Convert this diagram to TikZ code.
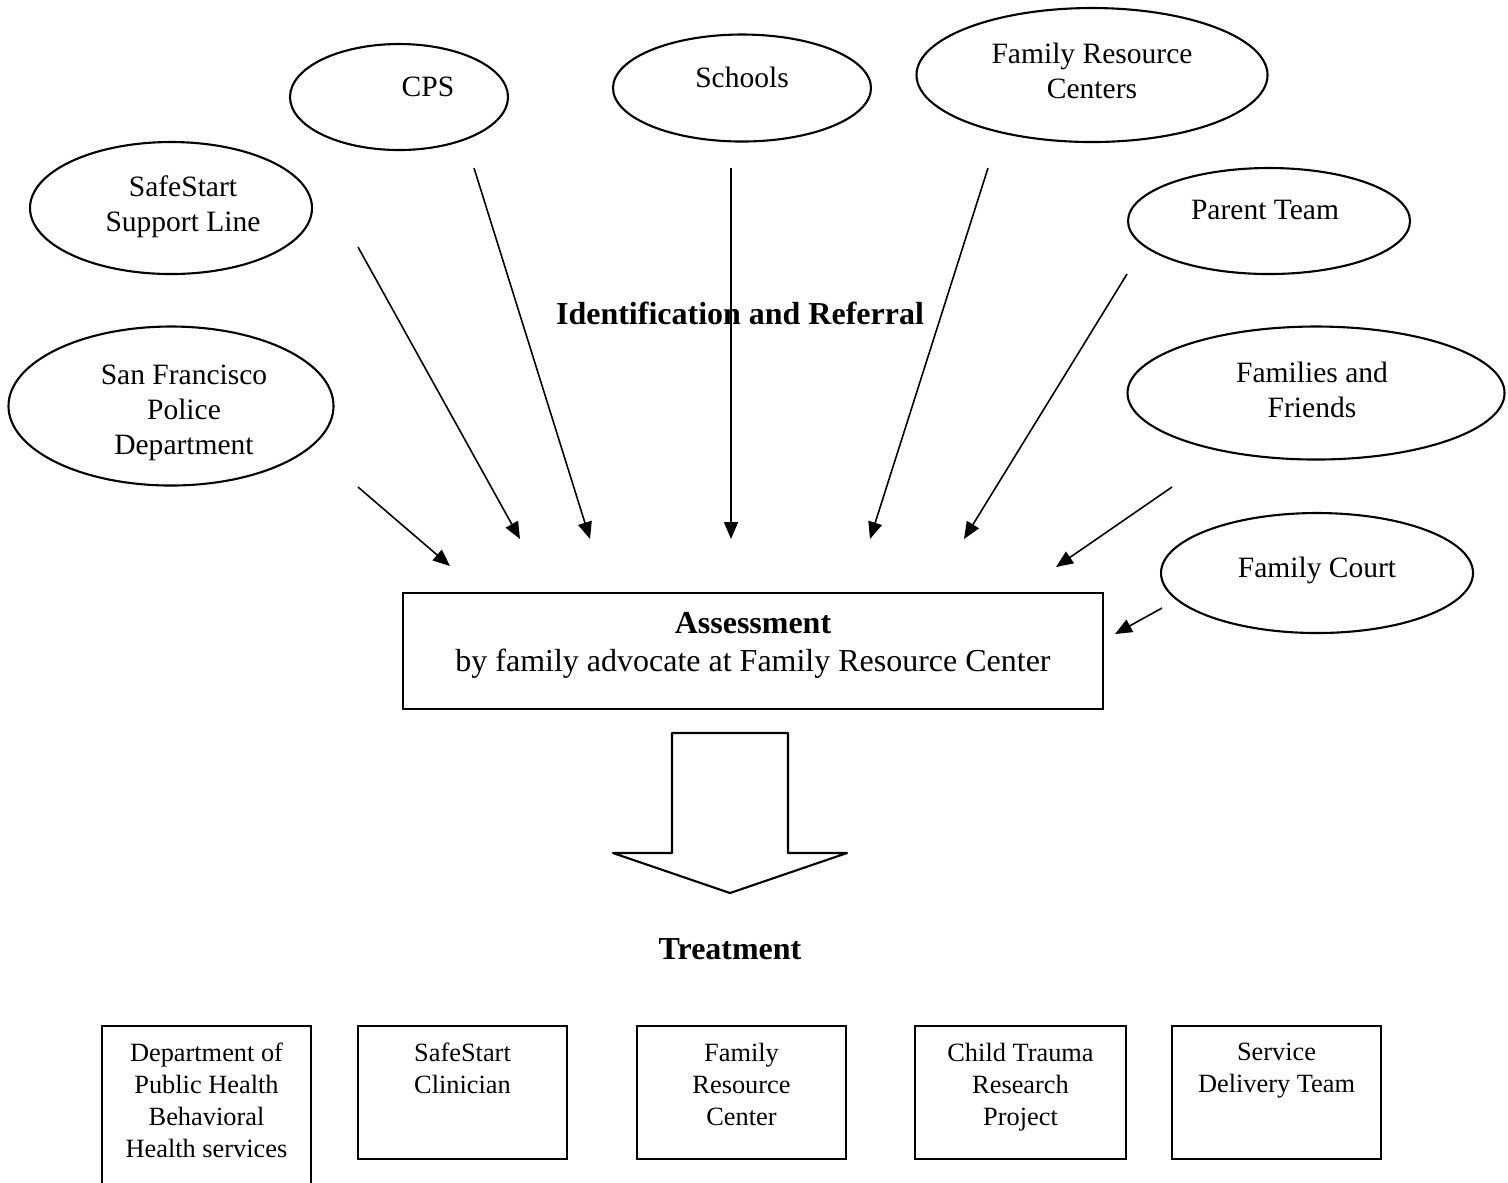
\documentclass[tikz,border=0pt]{standalone}
\usepackage{fontspec}
\setmainfont{Liberation Serif}
\usepackage{tikz}
\usetikzlibrary{shapes.geometric,arrows.meta}

\newcommand{\srcsize}{\fontsize{8.4}{10}\selectfont}
\newcommand{\headsize}{\fontsize{9.1}{10.8}\selectfont}
\newcommand{\unitsize}{\fontsize{7.5}{9.1}\selectfont}

\tikzset{
  src/.style={draw,ellipse,line width=0.6pt,inner sep=0pt},
  srctext/.style={font=\srcsize,align=center,inner sep=0pt},
  box/.style={draw,rectangle,line width=0.6pt,inner sep=0pt},
  boxtext/.style={font=\headsize,align=center,inner sep=0pt},
  unit/.style={draw,rectangle,line width=0.6pt,inner sep=0pt,anchor=north,
    minimum width=2.09cm,minimum height=1.33cm},
  unittext/.style={font=\unitsize,align=center,inner sep=0pt,anchor=north,yshift=-0.17cm},
  head/.style={font=\headsize\bfseries,inner sep=0pt},
  feed/.style={-{Triangle[length=1.7mm,width=1.4mm]},line width=0.45pt}
}

\begin{document}
\begin{tikzpicture}
\useasboundingbox (0,0) rectangle (15.08,-11.82);
% Referral sources
\node[src,minimum width=3.25cm,minimum height=1.59cm,
  label={[srctext,xshift=0.13cm,yshift=-0.07cm]center:San Francisco\\Police\\Department}] (sfpd) at (1.71,-4.06) {};
\node[src,minimum width=2.82cm,minimum height=1.32cm,
  label={[srctext,xshift=0.12cm,yshift=0.015cm]center:SafeStart\\Support Line}] (support) at (1.71,-2.08) {};
\node[src,minimum width=2.18cm,minimum height=1.06cm,
  label={[srctext,xshift=0.29cm,yshift=0.1cm]center:CPS}] (cps) at (3.99,-0.97) {};
\node[src,minimum width=2.58cm,minimum height=1.07cm,
  label={[srctext,yshift=0.11cm]center:Schools}] (schools) at (7.42,-0.88) {};
\node[src,minimum width=3.51cm,minimum height=1.34cm,
  label={[srctext,yshift=0.045cm]center:Family Resource\\Centers}] (frc) at (10.92,-0.75) {};
\node[src,minimum width=2.82cm,minimum height=1.06cm,
  label={[srctext,xshift=-0.04cm,yshift=0.11cm]center:Parent Team}] (parent) at (12.69,-2.21) {};
\node[src,minimum width=3.77cm,minimum height=1.33cm,
  label={[srctext,xshift=-0.04cm,yshift=0.035cm]center:Families and\\Friends}] (friends) at (13.16,-3.93) {};
\node[src,minimum width=3.12cm,minimum height=1.20cm,
  label={[srctext,yshift=0.03cm]center:Family Court}] (court) at (13.17,-5.73) {};

% Heading
\node[head] (ident) at (7.40,-3.13) {Identification and Referral};

% Arrow ends
\coordinate (sfpd-a) at (3.58,-4.87);    \coordinate (sfpd-b) at (4.50,-5.66);
\coordinate (support-a) at (3.58,-2.47); \coordinate (support-b) at (5.20,-5.39);
\coordinate (cps-a) at (4.74,-1.68);     \coordinate (cps-b) at (5.90,-5.39);
\coordinate (schools-a) at (7.31,-1.68); \coordinate (schools-b) at (7.31,-5.39);
\coordinate (frc-a) at (9.88,-1.68);     \coordinate (frc-b) at (8.70,-5.39);
\coordinate (parent-a) at (11.27,-2.74); \coordinate (parent-b) at (9.64,-5.39);
\coordinate (friends-a) at (11.72,-4.87);\coordinate (friends-b) at (10.56,-5.67);
\coordinate (court-a) at (11.62,-6.08);  \coordinate (court-b) at (11.15,-6.34);
\foreach \s in {sfpd,support,cps,schools,frc,parent,friends,court}
  \draw[feed] (\s-a) -- (\s-b);

% Assessment
\node[box,minimum width=7cm,minimum height=1.16cm,
  label={[boxtext,yshift=0.06cm]center:\textbf{Assessment}\\by family advocate at Family Resource Center}] (assess) at (7.53,-6.51) {};

% Block arrow
\draw[line width=0.6pt,line join=round] (6.72,-7.33) -- (7.88,-7.33) -- (7.88,-8.53) -- (8.47,-8.53)
  -- (7.30,-8.93) -- (6.13,-8.53) -- (6.72,-8.53) -- cycle;

\node[head] (treat) at (7.30,-9.49) {Treatment};

% Treatment units
\node[unit,minimum height=1.70cm,label={[unittext]north:Department of\\Public Health\\Behavioral\\Health services}] (dph) at (2.065,-10.25) {};
\node[unit,label={[unittext]north:SafeStart\\Clinician}] (clin) at (4.625,-10.25) {};
\node[unit,label={[unittext]north:Family\\Resource\\Center}] (center) at (7.415,-10.25) {};
\node[unit,minimum width=2.11cm,label={[unittext]north:Child Trauma\\Research\\Project}] (ctrp) at (10.205,-10.25) {};
\node[unit,label={[unittext]north:Service\\Delivery Team}] (sdt) at (12.765,-10.25) {};
\end{tikzpicture}
\end{document}
